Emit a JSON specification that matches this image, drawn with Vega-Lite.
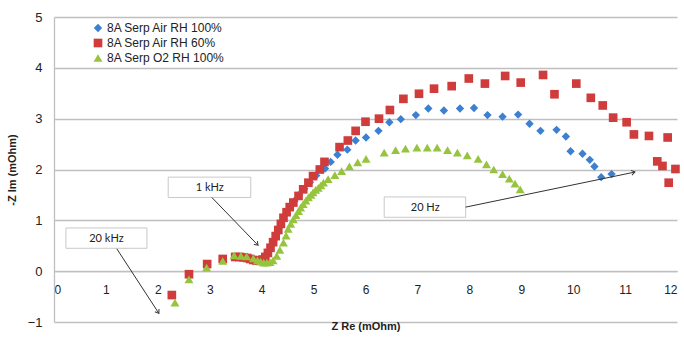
{
  "$schema": "https://vega.github.io/schema/vega-lite/v6.json",
  "width": 623,
  "height": 305,
  "autosize": "none",
  "padding": {"left": 54, "top": 17, "right": 7, "bottom": 19},
  "background": "white",
  "config": {"view": {"stroke": null}, "font": "Liberation Sans"},
  "datasets": {
    "points": [
      {"s": "8A Serp Air RH 100%", "zre": 2.27, "zim": -0.47},
      {"s": "8A Serp Air RH 100%", "zre": 2.6, "zim": -0.07},
      {"s": "8A Serp Air RH 100%", "zre": 2.95, "zim": 0.13},
      {"s": "8A Serp Air RH 100%", "zre": 3.25, "zim": 0.23},
      {"s": "8A Serp Air RH 100%", "zre": 3.5, "zim": 0.27},
      {"s": "8A Serp Air RH 100%", "zre": 3.7, "zim": 0.25},
      {"s": "8A Serp Air RH 100%", "zre": 3.88, "zim": 0.21},
      {"s": "8A Serp Air RH 100%", "zre": 3.96, "zim": 0.2},
      {"s": "8A Serp Air RH 100%", "zre": 4.03, "zim": 0.22},
      {"s": "8A Serp Air RH 100%", "zre": 4.09, "zim": 0.3},
      {"s": "8A Serp Air RH 100%", "zre": 4.15, "zim": 0.4},
      {"s": "8A Serp Air RH 100%", "zre": 4.2, "zim": 0.52},
      {"s": "8A Serp Air RH 100%", "zre": 4.26, "zim": 0.64},
      {"s": "8A Serp Air RH 100%", "zre": 4.31, "zim": 0.76},
      {"s": "8A Serp Air RH 100%", "zre": 4.36, "zim": 0.88},
      {"s": "8A Serp Air RH 100%", "zre": 4.42, "zim": 1.02},
      {"s": "8A Serp Air RH 100%", "zre": 4.48, "zim": 1.14},
      {"s": "8A Serp Air RH 100%", "zre": 4.55, "zim": 1.26},
      {"s": "8A Serp Air RH 100%", "zre": 4.63, "zim": 1.38},
      {"s": "8A Serp Air RH 100%", "zre": 4.72, "zim": 1.5},
      {"s": "8A Serp Air RH 100%", "zre": 4.82, "zim": 1.62},
      {"s": "8A Serp Air RH 100%", "zre": 4.93, "zim": 1.75},
      {"s": "8A Serp Air RH 100%", "zre": 5.05, "zim": 1.88},
      {"s": "8A Serp Air RH 100%", "zre": 5.22, "zim": 2.02},
      {"s": "8A Serp Air RH 100%", "zre": 5.33, "zim": 2.15},
      {"s": "8A Serp Air RH 100%", "zre": 5.46, "zim": 2.29},
      {"s": "8A Serp Air RH 100%", "zre": 5.65, "zim": 2.39},
      {"s": "8A Serp Air RH 100%", "zre": 5.81, "zim": 2.57},
      {"s": "8A Serp Air RH 100%", "zre": 6.01, "zim": 2.63},
      {"s": "8A Serp Air RH 100%", "zre": 6.25, "zim": 2.76},
      {"s": "8A Serp Air RH 100%", "zre": 6.46, "zim": 2.93},
      {"s": "8A Serp Air RH 100%", "zre": 6.68, "zim": 2.99},
      {"s": "8A Serp Air RH 100%", "zre": 6.97, "zim": 3.07},
      {"s": "8A Serp Air RH 100%", "zre": 7.21, "zim": 3.2},
      {"s": "8A Serp Air RH 100%", "zre": 7.51, "zim": 3.16},
      {"s": "8A Serp Air RH 100%", "zre": 7.82, "zim": 3.2},
      {"s": "8A Serp Air RH 100%", "zre": 8.09, "zim": 3.21},
      {"s": "8A Serp Air RH 100%", "zre": 8.35, "zim": 3.07},
      {"s": "8A Serp Air RH 100%", "zre": 8.64, "zim": 3.04},
      {"s": "8A Serp Air RH 100%", "zre": 8.94, "zim": 3.08},
      {"s": "8A Serp Air RH 100%", "zre": 9.16, "zim": 2.9},
      {"s": "8A Serp Air RH 100%", "zre": 9.37, "zim": 2.76},
      {"s": "8A Serp Air RH 100%", "zre": 9.68, "zim": 2.78},
      {"s": "8A Serp Air RH 100%", "zre": 9.86, "zim": 2.65},
      {"s": "8A Serp Air RH 100%", "zre": 9.95, "zim": 2.36},
      {"s": "8A Serp Air RH 100%", "zre": 10.18, "zim": 2.31},
      {"s": "8A Serp Air RH 100%", "zre": 10.32, "zim": 2.19},
      {"s": "8A Serp Air RH 100%", "zre": 10.41, "zim": 2.06},
      {"s": "8A Serp Air RH 100%", "zre": 10.54, "zim": 1.85},
      {"s": "8A Serp Air RH 100%", "zre": 10.74, "zim": 1.91},
      {"s": "8A Serp Air RH 60%", "zre": 2.27, "zim": -0.47},
      {"s": "8A Serp Air RH 60%", "zre": 2.6, "zim": -0.06},
      {"s": "8A Serp Air RH 60%", "zre": 2.95, "zim": 0.14},
      {"s": "8A Serp Air RH 60%", "zre": 3.25, "zim": 0.24},
      {"s": "8A Serp Air RH 60%", "zre": 3.49, "zim": 0.28},
      {"s": "8A Serp Air RH 60%", "zre": 3.58, "zim": 0.28},
      {"s": "8A Serp Air RH 60%", "zre": 3.65, "zim": 0.27},
      {"s": "8A Serp Air RH 60%", "zre": 3.72, "zim": 0.26},
      {"s": "8A Serp Air RH 60%", "zre": 3.78, "zim": 0.24},
      {"s": "8A Serp Air RH 60%", "zre": 3.84, "zim": 0.22},
      {"s": "8A Serp Air RH 60%", "zre": 3.9, "zim": 0.21},
      {"s": "8A Serp Air RH 60%", "zre": 3.96, "zim": 0.21},
      {"s": "8A Serp Air RH 60%", "zre": 4.02, "zim": 0.23},
      {"s": "8A Serp Air RH 60%", "zre": 4.07, "zim": 0.28},
      {"s": "8A Serp Air RH 60%", "zre": 4.12, "zim": 0.36},
      {"s": "8A Serp Air RH 60%", "zre": 4.17, "zim": 0.46},
      {"s": "8A Serp Air RH 60%", "zre": 4.22, "zim": 0.57},
      {"s": "8A Serp Air RH 60%", "zre": 4.27, "zim": 0.69},
      {"s": "8A Serp Air RH 60%", "zre": 4.32, "zim": 0.81},
      {"s": "8A Serp Air RH 60%", "zre": 4.37, "zim": 0.93},
      {"s": "8A Serp Air RH 60%", "zre": 4.42, "zim": 1.05},
      {"s": "8A Serp Air RH 60%", "zre": 4.48, "zim": 1.16},
      {"s": "8A Serp Air RH 60%", "zre": 4.54, "zim": 1.26},
      {"s": "8A Serp Air RH 60%", "zre": 4.61, "zim": 1.35},
      {"s": "8A Serp Air RH 60%", "zre": 4.71, "zim": 1.48},
      {"s": "8A Serp Air RH 60%", "zre": 4.8, "zim": 1.61},
      {"s": "8A Serp Air RH 60%", "zre": 4.9, "zim": 1.74},
      {"s": "8A Serp Air RH 60%", "zre": 4.99, "zim": 1.87},
      {"s": "8A Serp Air RH 60%", "zre": 5.12, "zim": 2.0},
      {"s": "8A Serp Air RH 60%", "zre": 5.21, "zim": 2.15},
      {"s": "8A Serp Air RH 60%", "zre": 5.5, "zim": 2.44},
      {"s": "8A Serp Air RH 60%", "zre": 5.66, "zim": 2.57},
      {"s": "8A Serp Air RH 60%", "zre": 5.81, "zim": 2.76},
      {"s": "8A Serp Air RH 60%", "zre": 6.0, "zim": 2.94},
      {"s": "8A Serp Air RH 60%", "zre": 6.26, "zim": 3.0},
      {"s": "8A Serp Air RH 60%", "zre": 6.47, "zim": 3.17},
      {"s": "8A Serp Air RH 60%", "zre": 6.73, "zim": 3.39},
      {"s": "8A Serp Air RH 60%", "zre": 7.03, "zim": 3.49},
      {"s": "8A Serp Air RH 60%", "zre": 7.32, "zim": 3.59},
      {"s": "8A Serp Air RH 60%", "zre": 7.66, "zim": 3.64},
      {"s": "8A Serp Air RH 60%", "zre": 7.99, "zim": 3.79},
      {"s": "8A Serp Air RH 60%", "zre": 8.3, "zim": 3.69},
      {"s": "8A Serp Air RH 60%", "zre": 8.69, "zim": 3.84},
      {"s": "8A Serp Air RH 60%", "zre": 8.99, "zim": 3.71},
      {"s": "8A Serp Air RH 60%", "zre": 9.42, "zim": 3.86},
      {"s": "8A Serp Air RH 60%", "zre": 9.64, "zim": 3.48},
      {"s": "8A Serp Air RH 60%", "zre": 10.06, "zim": 3.69},
      {"s": "8A Serp Air RH 60%", "zre": 10.34, "zim": 3.41},
      {"s": "8A Serp Air RH 60%", "zre": 10.57, "zim": 3.26},
      {"s": "8A Serp Air RH 60%", "zre": 10.77, "zim": 3.02},
      {"s": "8A Serp Air RH 60%", "zre": 11.03, "zim": 2.93},
      {"s": "8A Serp Air RH 60%", "zre": 11.17, "zim": 2.69},
      {"s": "8A Serp Air RH 60%", "zre": 11.46, "zim": 2.66},
      {"s": "8A Serp Air RH 60%", "zre": 11.82, "zim": 2.63},
      {"s": "8A Serp Air RH 60%", "zre": 11.62, "zim": 2.16},
      {"s": "8A Serp Air RH 60%", "zre": 11.72, "zim": 2.07},
      {"s": "8A Serp Air RH 60%", "zre": 11.97, "zim": 2.01},
      {"s": "8A Serp Air RH 60%", "zre": 11.84, "zim": 1.74},
      {"s": "8A Serp O2 RH 100%", "zre": 2.33, "zim": -0.62},
      {"s": "8A Serp O2 RH 100%", "zre": 2.6, "zim": -0.16},
      {"s": "8A Serp O2 RH 100%", "zre": 2.94, "zim": 0.07},
      {"s": "8A Serp O2 RH 100%", "zre": 3.25, "zim": 0.2},
      {"s": "8A Serp O2 RH 100%", "zre": 3.47, "zim": 0.31},
      {"s": "8A Serp O2 RH 100%", "zre": 3.6, "zim": 0.3},
      {"s": "8A Serp O2 RH 100%", "zre": 3.71, "zim": 0.29},
      {"s": "8A Serp O2 RH 100%", "zre": 3.84, "zim": 0.25},
      {"s": "8A Serp O2 RH 100%", "zre": 3.92, "zim": 0.21},
      {"s": "8A Serp O2 RH 100%", "zre": 3.98, "zim": 0.19},
      {"s": "8A Serp O2 RH 100%", "zre": 4.04, "zim": 0.17},
      {"s": "8A Serp O2 RH 100%", "zre": 4.1, "zim": 0.17},
      {"s": "8A Serp O2 RH 100%", "zre": 4.16, "zim": 0.18},
      {"s": "8A Serp O2 RH 100%", "zre": 4.22, "zim": 0.21},
      {"s": "8A Serp O2 RH 100%", "zre": 4.29, "zim": 0.3},
      {"s": "8A Serp O2 RH 100%", "zre": 4.35, "zim": 0.42},
      {"s": "8A Serp O2 RH 100%", "zre": 4.42, "zim": 0.56},
      {"s": "8A Serp O2 RH 100%", "zre": 4.47, "zim": 0.7},
      {"s": "8A Serp O2 RH 100%", "zre": 4.51, "zim": 0.83},
      {"s": "8A Serp O2 RH 100%", "zre": 4.56, "zim": 0.93},
      {"s": "8A Serp O2 RH 100%", "zre": 4.61, "zim": 1.02},
      {"s": "8A Serp O2 RH 100%", "zre": 4.66, "zim": 1.1},
      {"s": "8A Serp O2 RH 100%", "zre": 4.71, "zim": 1.18},
      {"s": "8A Serp O2 RH 100%", "zre": 4.75, "zim": 1.25},
      {"s": "8A Serp O2 RH 100%", "zre": 4.8, "zim": 1.32},
      {"s": "8A Serp O2 RH 100%", "zre": 4.85, "zim": 1.39},
      {"s": "8A Serp O2 RH 100%", "zre": 4.9, "zim": 1.45},
      {"s": "8A Serp O2 RH 100%", "zre": 4.95, "zim": 1.5},
      {"s": "8A Serp O2 RH 100%", "zre": 4.99, "zim": 1.55},
      {"s": "8A Serp O2 RH 100%", "zre": 5.04, "zim": 1.6},
      {"s": "8A Serp O2 RH 100%", "zre": 5.09, "zim": 1.64},
      {"s": "8A Serp O2 RH 100%", "zre": 5.14, "zim": 1.69},
      {"s": "8A Serp O2 RH 100%", "zre": 5.19, "zim": 1.74},
      {"s": "8A Serp O2 RH 100%", "zre": 5.28, "zim": 1.81},
      {"s": "8A Serp O2 RH 100%", "zre": 5.41, "zim": 1.89},
      {"s": "8A Serp O2 RH 100%", "zre": 5.54, "zim": 1.97},
      {"s": "8A Serp O2 RH 100%", "zre": 5.69, "zim": 2.06},
      {"s": "8A Serp O2 RH 100%", "zre": 5.85, "zim": 2.14},
      {"s": "8A Serp O2 RH 100%", "zre": 6.01, "zim": 2.21},
      {"s": "8A Serp O2 RH 100%", "zre": 6.36, "zim": 2.33},
      {"s": "8A Serp O2 RH 100%", "zre": 6.58, "zim": 2.38},
      {"s": "8A Serp O2 RH 100%", "zre": 6.77, "zim": 2.41},
      {"s": "8A Serp O2 RH 100%", "zre": 6.99, "zim": 2.43},
      {"s": "8A Serp O2 RH 100%", "zre": 7.19, "zim": 2.43},
      {"s": "8A Serp O2 RH 100%", "zre": 7.38, "zim": 2.43},
      {"s": "8A Serp O2 RH 100%", "zre": 7.58, "zim": 2.38},
      {"s": "8A Serp O2 RH 100%", "zre": 7.77, "zim": 2.33},
      {"s": "8A Serp O2 RH 100%", "zre": 7.96, "zim": 2.28},
      {"s": "8A Serp O2 RH 100%", "zre": 8.17, "zim": 2.21},
      {"s": "8A Serp O2 RH 100%", "zre": 8.33, "zim": 2.1},
      {"s": "8A Serp O2 RH 100%", "zre": 8.47, "zim": 2.0},
      {"s": "8A Serp O2 RH 100%", "zre": 8.64, "zim": 1.91},
      {"s": "8A Serp O2 RH 100%", "zre": 8.77, "zim": 1.82},
      {"s": "8A Serp O2 RH 100%", "zre": 8.88, "zim": 1.72},
      {"s": "8A Serp O2 RH 100%", "zre": 8.98, "zim": 1.61}
    ],
    "boxes": [
      {"label": "1 kHz", "x1": 2.2, "x2": 3.79, "y1": 1.85, "y2": 1.45, "tx": 3.0, "ty": 1.63},
      {"label": "20 kHz", "x1": 0.23, "x2": 1.79, "y1": 0.85, "y2": 0.45, "tx": 1.01, "ty": 0.63},
      {"label": "20 Hz", "x1": 6.36, "x2": 7.93, "y1": 1.46, "y2": 1.06, "tx": 7.15, "ty": 1.24}
    ],
    "arrows": [
      {"x1": 3.04, "y1": 1.45, "x2": 3.93, "y2": 0.51},
      {"x1": 1.21, "y1": 0.44, "x2": 2.02, "y2": -0.83},
      {"x1": 7.93, "y1": 1.26, "x2": 11.19, "y2": 1.95}
    ]
  },
  "layer": [
    {
      "data": {"name": "points"},
      "mark": {"type": "point", "filled": true, "opacity": 1},
      "encoding": {
        "x": {
          "field": "zre", "type": "quantitative",
          "scale": {"domain": [0, 12], "nice": false, "zero": false},
          "axis": {
            "title": "Z Re (mOhm)", "values": [0,1,2,3,4,5,6,7,8,9,10,11,12],
            "grid": false, "ticks": false, "domain": true, "domainColor": "#bfbfbf", "domainWidth": 1.3,
            "offset": -50.8, "labelPadding": 13, "labelFontSize": 12, "labelColor": "#222",
            "labelFont": "Liberation Sans",
            "titleFont": "Liberation Sans", "titleFontSize": 11, "titleFontWeight": "bold", "titleColor": "#222",
            "titleY": 55, "titleBaseline": "middle"
          }
        },
        "y": {
          "field": "zim", "type": "quantitative",
          "scale": {"domain": [-1, 5], "nice": false, "zero": false},
          "axis": {
            "title": "-Z Im (mOhm)", "values": [-1,0,1,2,3,4,5],
            "grid": true, "gridColor": "#bfbfbf", "gridWidth": 1.3,
            "ticks": false, "domain": true, "domainColor": "#bfbfbf", "domainWidth": 1.3,
            "labelPadding": 12, "labelFontSize": 13, "labelColor": "#222", "labelFont": "Liberation Sans",
            "titleFont": "Liberation Sans", "titleFontSize": 11, "titleFontWeight": "bold", "titleColor": "#222",
            "titleX": -42, "titleBaseline": "middle"
          }
        },
        "color": {
          "field": "s", "type": "nominal",
          "scale": {"domain": ["8A Serp Air RH 100%", "8A Serp Air RH 60%", "8A Serp O2 RH 100%"], "range": ["#3d7fd0", "#d03c3c", "#97c43e"]},
          "legend": {
            "title": null, "orient": "none", "legendX": 38, "legendY": 5, "padding": 0,
            "labelFont": "Liberation Sans", "labelFontSize": 12, "labelColor": "#222",
            "symbolSize": 45, "rowPadding": 3, "labelOffset": 3, "symbolStrokeWidth": 0
          }
        },
        "shape": {
          "field": "s", "type": "nominal",
          "scale": {"domain": ["8A Serp Air RH 100%", "8A Serp Air RH 60%", "8A Serp O2 RH 100%"], "range": ["diamond", "square", "triangle-up"]}
        },
        "size": {
          "field": "s", "type": "nominal",
          "scale": {"domain": ["8A Serp Air RH 100%", "8A Serp Air RH 60%", "8A Serp O2 RH 100%"], "range": [70, 80, 78]},
          "legend": null
        }
      }
    },
    {
      "data": {"name": "boxes"},
      "mark": {"type": "rect", "fill": "white", "stroke": "#c8c8c8", "strokeWidth": 1},
      "encoding": {
        "x": {"field": "x1", "type": "quantitative"},
        "x2": {"field": "x2"},
        "y": {"field": "y1", "type": "quantitative"},
        "y2": {"field": "y2"}
      }
    },
    {
      "data": {"name": "boxes"},
      "mark": {"type": "text", "font": "Lato", "fontSize": 11, "color": "#222", "baseline": "middle", "align": "center"},
      "encoding": {
        "x": {"field": "tx", "type": "quantitative"},
        "y": {"field": "ty", "type": "quantitative"},
        "text": {"field": "label"}
      }
    },
    {
      "data": {"name": "arrows"},
      "mark": {"type": "rule", "color": "#333", "strokeWidth": 1},
      "encoding": {
        "x": {"field": "x1", "type": "quantitative"},
        "y": {"field": "y1", "type": "quantitative"},
        "x2": {"field": "x2"},
        "y2": {"field": "y2"}
      }
    },
    {
      "data": {"name": "arrows"},
      "transform": [
        {"calculate": "atan2(-(datum.y2 - datum.y1) * 50.83, (datum.x2 - datum.x1) * 51.92) * 180 / PI", "as": "ang"}
      ],
      "mark": {"type": "point", "shape": "M-1,-0.7L0,0L-1,0.7", "filled": false, "stroke": "#333", "strokeWidth": 1, "size": 50, "opacity": 1},
      "encoding": {
        "x": {"field": "x2", "type": "quantitative"},
        "y": {"field": "y2", "type": "quantitative"},
        "angle": {"field": "ang", "type": "quantitative", "scale": null}
      }
    }
  ]
}
